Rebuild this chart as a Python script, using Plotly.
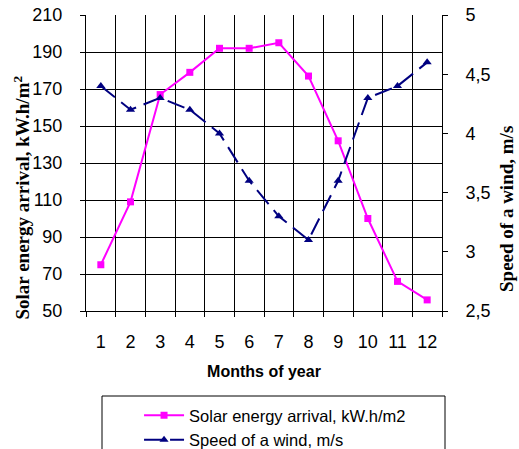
import plotly.graph_objects as go

months = list(range(1, 13))
month_labels = [str(m) for m in months]
solar = [75, 109, 167, 179, 192, 192, 195, 177, 142, 100, 66, 56]
wind = [4.4, 4.2, 4.3, 4.2, 4.0, 3.6, 3.3, 3.1, 3.6, 4.3, 4.4, 4.6]
left_ticks = [50, 70, 90, 110, 130, 150, 170, 190, 210]
right_ticks = [2.5, 3, 3.5, 4, 4.5, 5]
right_labels = ["2,5", "3", "3,5", "4", "4,5", "5"]

fig = go.Figure()
fig.add_trace(go.Scatter(
    x=months, y=solar, name="Solar energy arrival, kW.h/m2",
    mode="lines+markers", line=dict(color="#FF00FF", width=2),
    marker=dict(symbol="square", size=7, color="#FF00FF"),
    legendgroup="a"))
fig.add_trace(go.Scatter(
    x=months, y=wind, name="Speed of a wind, m/s", yaxis="y2",
    mode="lines+markers", line=dict(color="#000080", width=2, dash="18px,8px"),
    marker=dict(symbol="triangle-up", size=8, color="#000080"),
    legendgroup="b"))

axfont = dict(family="Liberation Sans, Arial", size=18, color="black")
serif = dict(family="Liberation Serif, Times New Roman", size=19, color="black")

W, H = 519, 449
fig.update_layout(
    width=W, height=H,
    margin=dict(l=86, r=77, t=15, b=138, autoexpand=False),
    paper_bgcolor="white", plot_bgcolor="white",
    showlegend=True,
    legend=dict(x=0.149, y=-0.294, xanchor="left", yanchor="top",
                font=dict(family="Liberation Sans, Arial", size=16.5, color="black"),
                bgcolor="rgba(0,0,0,0)", borderwidth=0, tracegroupgap=0,
                itemwidth=40),
    xaxis=dict(range=[0.5, 12.5], tickvals=months, ticktext=month_labels,
               ticks="", showgrid=False, zeroline=False, automargin=False,
               showline=True, linecolor="black", linewidth=1,
               tickfont=axfont, ticklabelstandoff=14, ticklabeloverflow="allow",
               title=dict(text="<b>Months of year</b>",
                          font=dict(family="Liberation Sans, Arial", size=16, color="black"),
                          standoff=15),
               minor=dict(tick0=0.5, dtick=1, showgrid=True, gridcolor="black",
                          gridwidth=1, ticks="outside", ticklen=5, tickcolor="black")),
    yaxis=dict(range=[50, 210], tickvals=left_ticks, ticks="outside", ticklen=5,
               tickcolor="black", showgrid=True, gridcolor="black", gridwidth=1,
               zeroline=False, showline=True, linecolor="black", linewidth=1,
               tickfont=axfont, automargin=False, ticklabelstandoff=14,
               ticklabeloverflow="allow"),
    yaxis2=dict(range=[2.5, 5], overlaying="y", side="right",
                tickvals=right_ticks, ticktext=right_labels, ticks="outside",
                ticklen=5, tickcolor="black", showgrid=False, zeroline=False,
                showline=True, linecolor="black", linewidth=1, tickfont=axfont,
                automargin=False, ticklabelstandoff=14, ticklabeloverflow="allow"),
    annotations=[
        dict(text="<b>Solar energy arrival, kW.h/m<sup>2</sup></b>",
             xref="paper", yref="paper", x=(21.5 - 86) / 356, y=(311 - 198) / 296,
             xanchor="center", yanchor="middle", textangle=-90,
             showarrow=False, font=serif),
        dict(text="<b>Speed of a wind, m/s</b>",
             xref="paper", yref="paper", x=(506 - 86) / 356, y=(311 - 209) / 296,
             xanchor="center", yanchor="middle", textangle=-90,
             showarrow=False, font=serif),
    ],
)
fig.add_shape(type="rect", xref="paper", yref="paper",
              x0=(102 - 86) / 356, x1=(445 - 86) / 356,
              y0=(311 - 470) / 296, y1=(311 - 396) / 296,
              line=dict(color="black", width=1), fillcolor="rgba(0,0,0,0)")
# remove the browser's default 8px body margin so the figure fills the window
fig.write_html("out.html", config={"displayModeBar": False},
               post_script="document.body.style.margin='0px';")
